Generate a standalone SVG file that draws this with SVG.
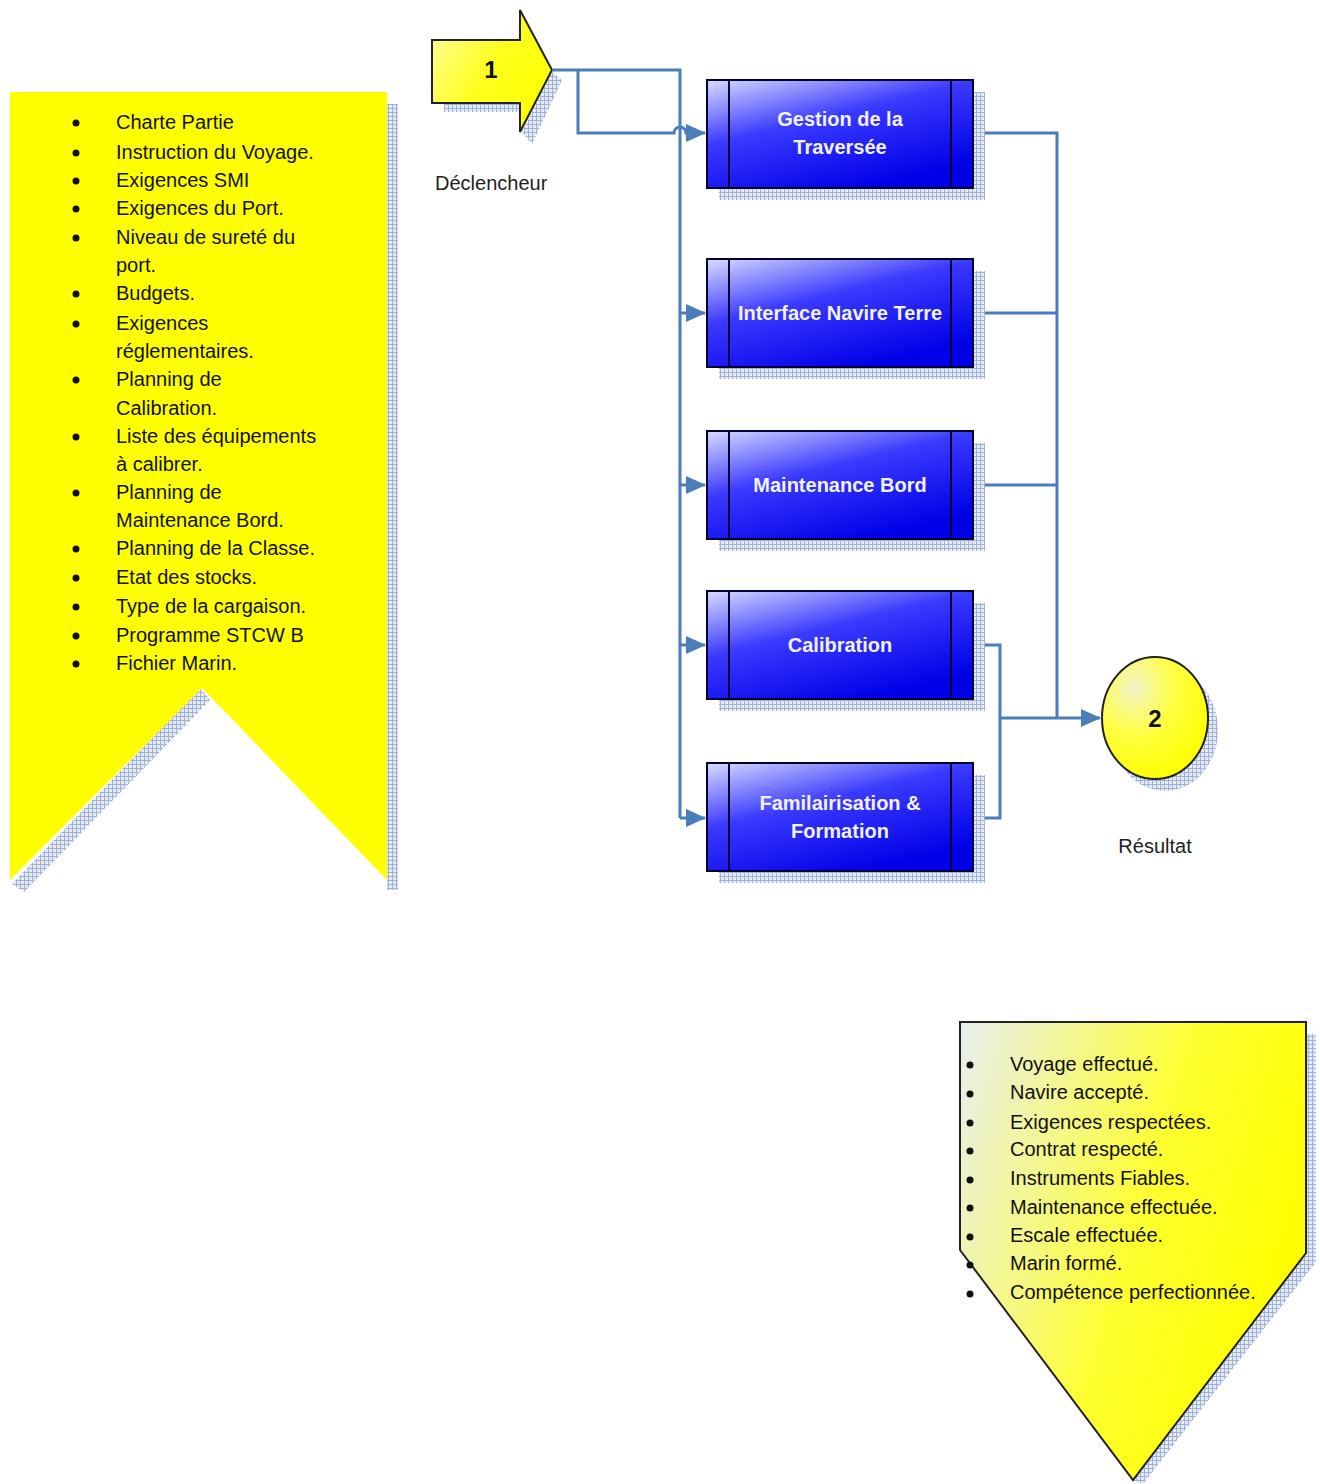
<svg xmlns="http://www.w3.org/2000/svg" width="1320" height="1484" viewBox="0 0 1320 1484">
  <defs>
    <pattern id="hatch" width="4" height="4" patternUnits="userSpaceOnUse">
      <rect width="4" height="4" fill="#e4eaf6"/>
      <path d="M0 0.5H4M0.5 0V4" stroke="#9fb2d6" stroke-width="1"/>
    </pattern>
    <linearGradient id="boxGrad" x1="0" y1="0" x2="0.6" y2="1">
      <stop offset="0" stop-color="#d8dcff"/>
      <stop offset="0.45" stop-color="#3a3aff"/>
      <stop offset="1" stop-color="#0000e8"/>
    </linearGradient>
    <linearGradient id="yellowGrad" x1="0" y1="0" x2="1" y2="0.6">
      <stop offset="0" stop-color="#ffffa8"/>
      <stop offset="0.55" stop-color="#ffff20"/>
      <stop offset="1" stop-color="#ffff00"/>
    </linearGradient>
    <linearGradient id="outGrad" x1="0" y1="0" x2="1" y2="0.4">
      <stop offset="0" stop-color="#e8eef0"/>
      <stop offset="0.6" stop-color="#ffff30"/>
      <stop offset="1" stop-color="#ffff00"/>
    </linearGradient>
    <radialGradient id="circGrad" cx="0.3" cy="0.25" r="0.8">
      <stop offset="0" stop-color="#f4f4c8"/>
      <stop offset="0.5" stop-color="#ffff40"/>
      <stop offset="1" stop-color="#ffff00"/>
    </radialGradient>
    <marker id="arrow" markerWidth="8" markerHeight="8" refX="7" refY="4" orient="auto" markerUnits="userSpaceOnUse" viewBox="0 0 8 8">
      <path d="M0 0L8 4L0 8Z" fill="#4a7ebb"/>
    </marker>
    <marker id="arrowL" markerWidth="20" markerHeight="18" refX="19" refY="9" orient="auto" markerUnits="userSpaceOnUse" viewBox="0 0 20 18">
      <path d="M0 0L20 9L0 18Z" fill="#4a7ebb"/>
    </marker>
  </defs>
  <style>
    .wire { fill: none; stroke: #4a7ebb; stroke-width: 3; }
    .box { fill: url(#boxGrad); stroke: #000033; stroke-width: 2; }
    .band { fill: none; stroke: #000033; stroke-width: 2; }
    .shadow { fill: url(#hatch); }
    .lbl { font-family: "Liberation Sans", Arial, sans-serif; font-weight: bold; font-size: 20px; fill: #f2f2ff; text-anchor: middle; }
    .list { font-family: "Liberation Sans", Arial, sans-serif; font-size: 20px; fill: #111; }
    .cap { font-family: "Liberation Sans", Arial, sans-serif; font-size: 20px; fill: #222; }
    .num { font-family: "Liberation Sans", Arial, sans-serif; font-weight: bold; font-size: 24px; fill: #111; text-anchor: middle; }
  </style>

  <rect width="1320" height="1484" fill="#ffffff"/>

  <!-- inputs ribbon -->
  <g id="inputs">
    <rect class="shadow" x="387" y="104" width="11" height="786"/>
    <polygon class="shadow" points="200,688 210,700 24,892 12,884"/>
    <polygon points="10,92 387,92 387,880 202,688 10,880" fill="#ffff00"/>
    <g class="list">
      <text x="116" y="129">Charte Partie</text>
      <text x="116" y="159">Instruction du Voyage.</text>
      <text x="116" y="187">Exigences SMI</text>
      <text x="116" y="215">Exigences du Port.</text>
      <text x="116" y="244">Niveau de sureté du</text>
      <text x="116" y="272">port.</text>
      <text x="116" y="300">Budgets.</text>
      <text x="116" y="330">Exigences</text>
      <text x="116" y="358">réglementaires.</text>
      <text x="116" y="386">Planning de</text>
      <text x="116" y="415">Calibration.</text>
      <text x="116" y="443">Liste des équipements</text>
      <text x="116" y="471">à calibrer.</text>
      <text x="116" y="499">Planning de</text>
      <text x="116" y="527">Maintenance Bord.</text>
      <text x="116" y="555">Planning de la Classe.</text>
      <text x="116" y="584">Etat des stocks.</text>
      <text x="116" y="613">Type de la cargaison.</text>
      <text x="116" y="642">Programme STCW B</text>
      <text x="116" y="670">Fichier Marin.</text>
    </g>
    <g fill="#111">
      <circle cx="76" cy="123" r="3.5"/>
      <circle cx="76" cy="153" r="3.5"/>
      <circle cx="76" cy="181" r="3.5"/>
      <circle cx="76" cy="209" r="3.5"/>
      <circle cx="76" cy="238" r="3.5"/>
      <circle cx="76" cy="294" r="3.5"/>
      <circle cx="76" cy="324" r="3.5"/>
      <circle cx="76" cy="380" r="3.5"/>
      <circle cx="76" cy="437" r="3.5"/>
      <circle cx="76" cy="493" r="3.5"/>
      <circle cx="76" cy="549" r="3.5"/>
      <circle cx="76" cy="578" r="3.5"/>
      <circle cx="76" cy="607" r="3.5"/>
      <circle cx="76" cy="636" r="3.5"/>
      <circle cx="76" cy="664" r="3.5"/>
    </g>
  </g>

  <!-- trigger arrow -->
  <g id="trigger">
    <polygon class="shadow" points="444,103 520,103 520,112 444,112"/>
    <polygon class="shadow" points="552,72 562,80 532,144 522,132"/>
    <polygon points="432,40 520,40 520,10 552,70 520,132 520,103 432,103" fill="url(#yellowGrad)" stroke="#222" stroke-width="2"/>
    <text class="num" x="491" y="78">1</text>
    <text class="cap" x="435" y="190">Déclencheur</text>
  </g>

  <!-- connectors -->
  <g id="connectors">
    <path class="wire" d="M552 70H680V818" stroke-width="4"/>
    <path class="wire" d="M578 70V133H674a6 6 0 0 1 12 0H705" marker-end="url(#arrowL)"/>
    <path class="wire" d="M680 313H705" marker-end="url(#arrowL)"/>
    <path class="wire" d="M680 485H705" marker-end="url(#arrowL)"/>
    <path class="wire" d="M680 645H705" marker-end="url(#arrowL)"/>
    <path class="wire" d="M680 818H705" marker-end="url(#arrowL)"/>
    <path class="wire" d="M973 133H1057V718"/>
    <path class="wire" d="M973 313H1057"/>
    <path class="wire" d="M973 485H1057"/>
    <path class="wire" d="M973 645H1000V818H973"/>
    <path class="wire" d="M1000 718H1100" marker-end="url(#arrowL)"/>
  </g>

  <!-- process steps -->
  <g id="step-traversee">
    <rect class="shadow" x="719" y="92" width="266" height="108"/>
    <rect class="box" x="707" y="80" width="266" height="108"/>
    <path class="band" d="M729 80V188M951 80V188"/>
    <text class="lbl" x="840" y="126">Gestion de la</text>
    <text class="lbl" x="840" y="154">Traversée</text>
  </g>
  <g id="step-interface">
    <rect class="shadow" x="719" y="271" width="266" height="108"/>
    <rect class="box" x="707" y="259" width="266" height="108"/>
    <path class="band" d="M729 259V367M951 259V367"/>
    <text class="lbl" x="840" y="320">Interface Navire Terre</text>
  </g>
  <g id="step-maintenance">
    <rect class="shadow" x="719" y="443" width="266" height="108"/>
    <rect class="box" x="707" y="431" width="266" height="108"/>
    <path class="band" d="M729 431V539M951 431V539"/>
    <text class="lbl" x="840" y="492">Maintenance Bord</text>
  </g>
  <g id="step-calibration">
    <rect class="shadow" x="719" y="603" width="266" height="108"/>
    <rect class="box" x="707" y="591" width="266" height="108"/>
    <path class="band" d="M729 591V699M951 591V699"/>
    <text class="lbl" x="840" y="652">Calibration</text>
  </g>
  <g id="step-formation">
    <rect class="shadow" x="719" y="775" width="266" height="108"/>
    <rect class="box" x="707" y="763" width="266" height="108"/>
    <path class="band" d="M729 763V871M951 763V871"/>
    <text class="lbl" x="840" y="810">Familairisation &amp;</text>
    <text class="lbl" x="840" y="838">Formation</text>
  </g>

  <!-- result -->
  <g id="result">
    <ellipse class="shadow" cx="1165" cy="730" rx="53" ry="61"/>
    <ellipse cx="1155" cy="718" rx="53" ry="61" fill="url(#circGrad)" stroke="#222" stroke-width="2"/>
    <text class="num" x="1155" y="727">2</text>
    <text class="cap" x="1155" y="853" text-anchor="middle">Résultat</text>
  </g>

  <!-- outputs pentagon -->
  <g id="outputs">
    <polygon class="shadow" points="1306,1034 1316,1034 1316,1262 1143,1484 1133,1480 1306,1253"/>
    <polygon points="960,1022 1306,1022 1306,1253 1133,1480 960,1250" fill="url(#outGrad)" stroke="#222" stroke-width="2"/>
    <g class="list">
      <text x="1010" y="1071">Voyage effectué.</text>
      <text x="1010" y="1099">Navire accepté.</text>
      <text x="1010" y="1129">Exigences respectées.</text>
      <text x="1010" y="1156">Contrat respecté.</text>
      <text x="1010" y="1185">Instruments Fiables.</text>
      <text x="1010" y="1214">Maintenance effectuée.</text>
      <text x="1010" y="1242">Escale effectuée.</text>
      <text x="1010" y="1270">Marin formé.</text>
      <text x="1010" y="1299">Compétence perfectionnée.</text>
    </g>
    <g fill="#111">
      <circle cx="970" cy="1065" r="3.5"/>
      <circle cx="970" cy="1094" r="3.5"/>
      <circle cx="970" cy="1123" r="3.5"/>
      <circle cx="970" cy="1151" r="3.5"/>
      <circle cx="970" cy="1180" r="3.5"/>
      <circle cx="970" cy="1208" r="3.5"/>
      <circle cx="970" cy="1237" r="3.5"/>
      <circle cx="970" cy="1265" r="3.5"/>
      <circle cx="970" cy="1294" r="3.5"/>
    </g>
  </g>
</svg>
